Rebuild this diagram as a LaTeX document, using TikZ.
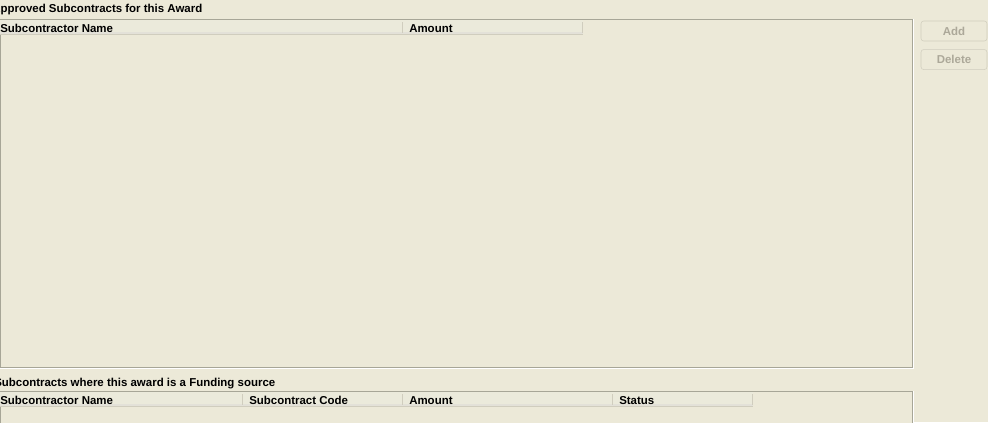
\documentclass[tikz,border=0pt]{standalone}
\usepackage{fontspec}
\setmainfont{Liberation Sans}
\usetikzlibrary{positioning}
\definecolor{xpface}{HTML}{ECE9D8}
\definecolor{xpedge}{HTML}{A7A697}
\definecolor{xphead}{HTML}{EBEADB}
\definecolor{xpshade}{HTML}{D0CDBE}
\definecolor{xpgrey}{HTML}{ACA899}
\tikzset{
  panel/.style={draw=xpedge, fill=xpface},
  heading/.style={anchor=west, inner sep=0pt, font=\bfseries\fontsize{8.6}{10}\selectfont},
  headcell/.style={anchor=west, inner sep=0pt, font=\bfseries\fontsize{8.6}{10}\selectfont},
  btn/.style={draw=xpshade, fill=xpface, rounded corners=2pt, text=xpgrey,
    minimum width=49.5pt, minimum height=15pt, inner sep=0pt, font=\bfseries\fontsize{8.6}{10}\selectfont}
}
\begin{document}
\begin{tikzpicture}[x=0.75pt, y=-0.75pt]
  \useasboundingbox (0,0) rectangle (988,422);
  \clip (0,0) rectangle (988,422);
  \fill[xpface] (0,0) rectangle (988,422);

  % upper list
  \node[heading] (title1) at (-8,9.5) {Approved Subcontracts for this Award};
  \draw[white] (0,19) rectangle (913.5,368.5);
  \draw[panel] (0,19) rectangle (912.5,367.5);
  \foreach \cell/\xa/\xb/\pad in {Subcontractor Name/0/403/0, Amount/403/583/6}{
    \fill[xphead] (\xa,20) rectangle (\xb,35);
    \fill[xpshade!60] (\xa,32) rectangle (\xb,35);
    \fill[xpshade] (\xa,34) rectangle (\xb,35);
    \draw[xpshade] (\xb-1,22) -- (\xb-1,33);
    \node[headcell] at (\xa+\pad,28.5) {\cell};
  }

  % buttons
  \node[btn] (add) at (954,31) {Add};
  \node[btn, below=6pt of add] (delete) {Delete};

  % lower list
  \node[heading] (title2) at (-6,384) {Subcontracts where this award is a Funding source};
  \draw[white] (0,391) rectangle (913.5,430);
  \draw[panel] (0,391) rectangle (912.5,430);
  \foreach \cell/\xa/\xb/\pad in {Subcontractor Name/0/243/0, Subcontract Code/243/403/6, Amount/403/613/6, Status/613/753/6}{
    \fill[xphead] (\xa,392) rectangle (\xb,407);
    \fill[xpshade!60] (\xa,404) rectangle (\xb,407);
    \fill[xpshade] (\xa,406) rectangle (\xb,407);
    \draw[xpshade] (\xb-1,394) -- (\xb-1,405);
    \node[headcell] at (\xa+\pad,400.5) {\cell};
  }
\end{tikzpicture}
\end{document}
